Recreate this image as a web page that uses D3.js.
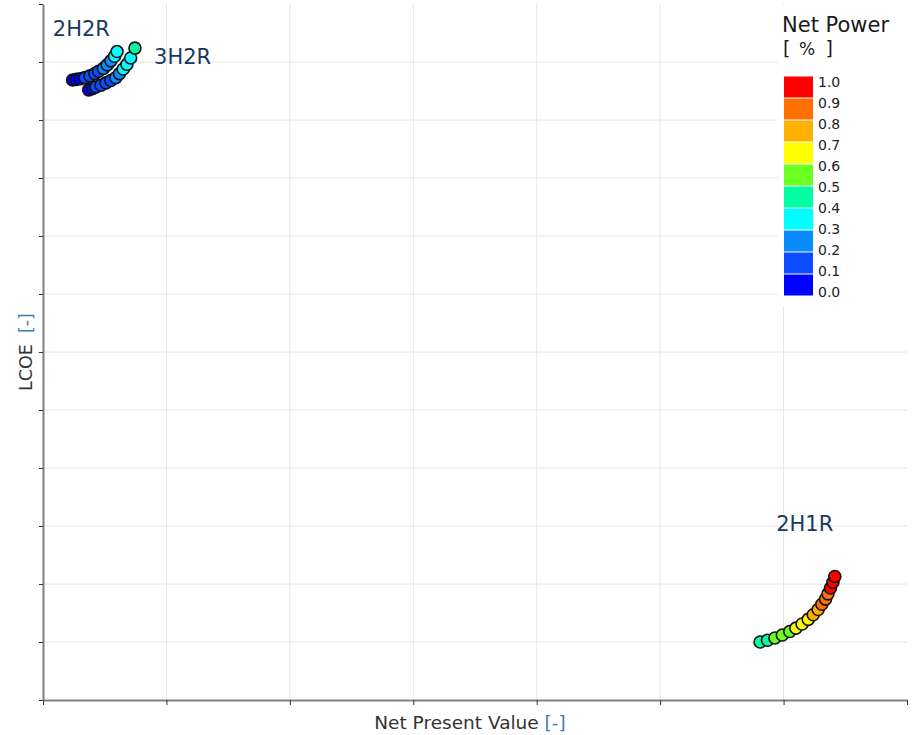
<!DOCTYPE html>
<html>
<head>
<meta charset="utf-8">
<script src="https://cdn.jsdelivr.net/npm/d3@7"></script>
<style>
  html, body { margin: 0; padding: 0; background: #fff; }
  svg { display: block; font-family: "DejaVu Sans", sans-serif; }
</style>
</head>
<body>
<svg id="chart" width="912" height="735"></svg>
<script>
// Configuration 2H2R
const h2r2X = [0.24, 0.27, 0.30, 0.34, 0.38, 0.42, 0.45, 0.49, 0.52, 0.55, 0.58, 0.60];
const h2r2Y = [10.69, 10.70, 10.71, 10.73, 10.76, 10.80, 10.84, 10.89, 10.95, 11.02, 11.10, 11.18];
const h2r2P = [0.02, 0.05, 0.08, 0.11, 0.13, 0.16, 0.19, 0.22, 0.25, 0.28, 0.31, 0.34];

// Configuration 3H2R
const h3r2X = [0.37, 0.40, 0.43, 0.47, 0.51, 0.55, 0.59, 0.62, 0.65, 0.68, 0.71, 0.745];
const h3r2Y = [10.52, 10.54, 10.57, 10.60, 10.64, 10.68, 10.73, 10.80, 10.88, 10.96, 11.07, 11.24];
const h3r2P = [0.03, 0.07, 0.10, 0.13, 0.16, 0.19, 0.22, 0.26, 0.30, 0.33, 0.37, 0.41];

// Configuration 2H1R
const h2r1X = [5.81, 5.87, 5.93, 5.99, 6.05, 6.10, 6.15, 6.20, 6.24, 6.28, 6.31, 6.34, 6.36, 6.38, 6.40, 6.415];
const h2r1Y = [1.00, 1.03, 1.07, 1.12, 1.18, 1.24, 1.31, 1.39, 1.47, 1.56, 1.65, 1.74, 1.83, 1.93, 2.03, 2.13];
const h2r1P = [0.42, 0.46, 0.51, 0.54, 0.57, 0.61, 0.64, 0.68, 0.72, 0.76, 0.80, 0.84, 0.88, 0.92, 0.96, 0.99];

// Group labels and anchor positions in data units
const groupNames = ["2H2R", "3H2R", "2H1R"];
const groupLabelX = [0.08, 0.90, 5.94];
const groupLabelY = [11.45, 10.97, 2.91];

// Colour bins for net power
const powerBreaks = [0.1, 0.2, 0.3, 0.4, 0.5, 0.6, 0.7, 0.8, 0.9];
const powerColors = ["#0000ff", "#0a4cff", "#0a8cff", "#00ffff", "#00ffa0",
                     "#6cff22", "#ffff00", "#ffb000", "#ff7000", "#ff0000"];
const legendTicks = ["0.0", "0.1", "0.2", "0.3", "0.4", "0.5", "0.6", "0.7", "0.8", "0.9", "1.0"];

const xTicks = [0, 1, 2, 3, 4, 5, 6, 7];
const yTicks = [0, 1, 2, 3, 4, 5, 6, 7, 8, 9, 10, 11, 12];

const svg = d3.select("#chart");
const plotL = 43, plotR = 907, plotT = 4, plotB = 700;

const x = d3.scaleLinear().domain([0, 7]).range([plotL, plotR]);
const y = d3.scaleLinear().domain([0, 12]).range([plotB, plotT]);
const color = d3.scaleThreshold().domain(powerBreaks).range(powerColors);

// Grid
const grid = svg.append("g");
grid.selectAll("line.v").data(xTicks.slice(1, -1)).join("line")
  .attr("x1", d => x(d)).attr("x2", d => x(d))
  .attr("y1", plotT).attr("y2", plotB)
  .attr("stroke", "#e6e6e6").attr("stroke-width", 1);
grid.selectAll("line.h").data(yTicks.slice(1, -1)).join("line")
  .attr("x1", plotL).attr("x2", plotR)
  .attr("y1", d => y(d)).attr("y2", d => y(d))
  .attr("stroke", "#e6e6e6").attr("stroke-width", 1);

// Axes (ticks only, no numbers)
const xAxis = svg.append("g").attr("transform", `translate(0,${plotB})`)
  .call(d3.axisBottom(x).tickValues(xTicks).tickFormat("").tickSizeInner(5).tickSizeOuter(0));
const yAxis = svg.append("g").attr("transform", `translate(${plotL},0)`)
  .call(d3.axisLeft(y).tickValues(yTicks).tickFormat("").tickSizeInner(4).tickSizeOuter(0));
[xAxis, yAxis].forEach(a => {
  a.select(".domain").attr("stroke", "#808080").attr("stroke-width", 2);
  a.selectAll(".tick line").attr("stroke", "#333").attr("stroke-width", 1);
});

// Axis titles
const xt = svg.append("text").attr("x", 470).attr("y", 729)
  .attr("text-anchor", "middle").attr("font-size", 18.5).attr("fill", "#333");
xt.append("tspan").text("Net Present Value ");
xt.append("tspan").attr("fill", "#3f79c4").text("[-]");

const yt = svg.append("text")
  .attr("transform", "translate(32,352) rotate(-90)")
  .attr("text-anchor", "middle").attr("font-size", 17.5).attr("fill", "#333")
  .style("white-space", "pre");
yt.append("tspan").text("LCOE  ");
yt.append("tspan").attr("fill", "#3f79c4").text("[-]");

// Points
const groups = [
  { xs: h2r2X, ys: h2r2Y, ps: h2r2P },
  { xs: h3r2X, ys: h3r2Y, ps: h3r2P },
  { xs: h2r1X, ys: h2r1Y, ps: h2r1P }
];
const pts = svg.append("g");
groups.forEach(g => {
  const data = g.xs.map((v, i) => ({ x: v, y: g.ys[i], p: g.ps[i] }));
  pts.append("g").selectAll("circle").data(data).join("circle")
    .attr("cx", d => x(d.x)).attr("cy", d => y(d.y)).attr("r", 6)
    .attr("fill", d => color(d.p))
    .attr("stroke", "#111").attr("stroke-width", 1.6);
});

// Group labels
svg.append("g").selectAll("text").data(groupNames).join("text")
  .attr("x", (d, i) => x(groupLabelX[i]))
  .attr("y", (d, i) => y(groupLabelY[i]))
  .attr("font-size", 21).attr("fill", "#183a62")
  .text(d => d);

// Legend
const lg = svg.append("g");
lg.append("rect").attr("x", 778).attr("y", 6).attr("width", 134).attr("height", 300).attr("fill", "#fff");
lg.append("text").attr("x", 782).attr("y", 32).attr("font-size", 21).attr("fill", "#1a1a1a").text("Net Power");
lg.append("text").attr("x", 783).attr("y", 55).attr("font-size", 19).attr("fill", "#1a1a1a").text("[");
lg.append("text").attr("x", 807).attr("y", 55).attr("font-size", 17).attr("text-anchor", "middle").attr("fill", "#1a1a1a").text("%");
lg.append("text").attr("x", 833).attr("y", 55).attr("font-size", 19).attr("text-anchor", "end").attr("fill", "#1a1a1a").text("]");

const sw = d3.scaleLinear().domain([0, 1]).range([296, 76]);
lg.selectAll("rect.sw").data(powerColors).join("rect")
  .attr("x", 784).attr("width", 29)
  .attr("y", (d, i) => sw((i + 1) / 10) + 0.5)
  .attr("height", (d, i) => sw(i / 10) - sw((i + 1) / 10) - 1)
  .attr("fill", d => d);
const lab = d3.scaleLinear().domain([0, 1]).range([292, 82]);
lg.selectAll("text.tk").data(legendTicks).join("text")
  .attr("x", 818).attr("y", d => lab(+d) + 5)
  .attr("font-size", 14).attr("fill", "#222")
  .text(d => d);
</script>
</body>
</html>
